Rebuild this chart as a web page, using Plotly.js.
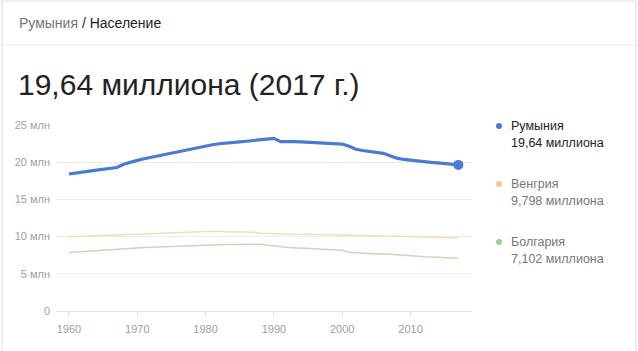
<!DOCTYPE html>
<html><head><meta charset="utf-8">
<script src="https://cdn.plot.ly/plotly-3.0.1.min.js"></script>
<style>html,body{margin:0;padding:0;background:#fff;}#chart{width:638px;height:351px;}</style>
</head><body><div id="chart"></div>
<script>
const years = [];
for (let y = 1960; y <= 2017; y++) years.push(y);
const romania = [18.41,18.57,18.68,18.81,18.93,19.03,19.14,19.29,19.72,20.01,20.25,20.47,20.66,20.83,21.03,21.25,21.45,21.66,21.86,22.05,22.2,22.35,22.48,22.53,22.63,22.72,22.82,22.94,23.05,23.15,23.2,22.76,22.79,22.76,22.73,22.68,22.61,22.55,22.51,22.46,22.44,22.13,21.73,21.57,21.45,21.32,21.19,20.88,20.54,20.37,20.25,20.15,20.06,19.98,19.91,19.82,19.7,19.64];
const hungary = [9.98,10.03,10.06,10.09,10.12,10.15,10.18,10.22,10.26,10.3,10.34,10.37,10.4,10.43,10.47,10.53,10.59,10.64,10.67,10.7,10.71,10.71,10.7,10.68,10.65,10.63,10.61,10.59,10.44,10.4,10.37,10.37,10.36,10.33,10.29,10.33,10.3,10.28,10.25,10.21,10.21,10.19,10.16,10.13,10.11,10.09,10.07,10.06,10.04,10.02,10.0,9.97,9.92,9.89,9.87,9.84,9.81,9.798];
const bulgaria = [7.87,7.94,8.01,8.08,8.14,8.2,8.26,8.33,8.37,8.43,8.49,8.54,8.58,8.62,8.68,8.72,8.76,8.8,8.81,8.83,8.86,8.89,8.92,8.94,8.95,8.96,8.96,8.97,8.98,8.88,8.72,8.63,8.54,8.47,8.44,8.41,8.36,8.31,8.26,8.21,8.17,7.91,7.84,7.8,7.75,7.66,7.7,7.62,7.58,7.49,7.4,7.35,7.3,7.26,7.22,7.18,7.13,7.102];
const names = ["Румыния","Венгрия","Болгария"];
const legendValues = ["19,64 миллиона","9,798 миллиона","7,102 миллиона"];
const lineColors = ["#4a7bd3","#f6dcb4","#c3dbb7"];
const dotColors = ["#4a7bd3","#f0c98b","#a3c996"];
const yTicks = [0,5,10,15,20,25];
const yTickText = ["0","5 млн","10 млн","15 млн","20 млн","25 млн"];
const xTicks = [1960,1970,1980,1990,2000,2010];
const headerCountry = "Румыния";
const headerTopic = "Население";
const bigTitle = "19,64 миллиона (2017 г.)";

const W = 638, H = 351;
const L = 56, R = 166, T = 125, B = 40;
const pw = W - L - R, ph = H - T - B;
const px = x => (x - L) / pw;
const py = y => (H - B - y) / ph;

const font = "Arial, 'Liberation Sans', sans-serif";

const traces = [
  {x: years, y: bulgaria, mode: "lines", line: {color: lineColors[2], width: 1.5}, hoverinfo: "skip"},
  {x: years, y: hungary, mode: "lines", line: {color: lineColors[1], width: 1.5}, hoverinfo: "skip"},
  {x: years, y: romania, mode: "lines", line: {color: lineColors[0], width: 3.2}, hoverinfo: "skip"},
  {x: [years[years.length-1]], y: [romania[romania.length-1]], mode: "markers", marker: {color: lineColors[0], size: 10}, hoverinfo: "skip"}
];

const annotations = [
  {xref: "paper", yref: "paper", x: px(17), y: py(23), xanchor: "left", yanchor: "middle", showarrow: false,
   text: '<span style="color:#70757a">' + headerCountry + '</span> / ' + headerTopic,
   font: {family: font, size: 14, color: "#222"}},
  {xref: "paper", yref: "paper", x: px(16), y: py(84), xanchor: "left", yanchor: "middle", showarrow: false,
   text: bigTitle, font: {family: font, size: 30, color: "#222"}}
];
const legendY = [126, 184, 242];
const shapes = [
  {type: "rect", xref: "paper", yref: "paper", x0: px(2), x1: px(636), y0: py(1), y1: py(360),
   line: {color: "#e2e2e2", width: 1.2}, fillcolor: "rgba(0,0,0,0)", layer: "below"},
  {type: "line", xref: "paper", yref: "paper", x0: px(2), x1: px(636), y0: py(45), y1: py(45),
   line: {color: "#e8e8e8", width: 1.2}}
];
for (let i = 0; i < 3; i++) {
  shapes.push({type: "circle", xref: "paper", yref: "paper", x0: px(496), x1: px(502), y0: py(legendY[i]-3), y1: py(legendY[i]+3),
    fillcolor: dotColors[i], line: {width: 0}});
  annotations.push({xref: "paper", yref: "paper", x: px(509), y: py(legendY[i]), xanchor: "left", yanchor: "middle", showarrow: false,
    text: names[i], font: {family: font, size: 12.5, color: i === 0 ? "#222" : "#777"}});
  annotations.push({xref: "paper", yref: "paper", x: px(509), y: py(legendY[i] + 17), xanchor: "left", yanchor: "middle", showarrow: false,
    text: legendValues[i], font: {family: font, size: 12.5, color: i === 0 ? "#222" : "#777"}});
}

const layout = {
  width: W, height: H,
  margin: {l: L, r: R, t: T, b: B, pad: 0},
  paper_bgcolor: "#fff", plot_bgcolor: "#fff",
  showlegend: false,
  font: {family: font},
  xaxis: {range: [1958.1, 2019.0], tickvals: xTicks, ticktext: xTicks.map(String),
    showgrid: false, zeroline: false, showline: false,
    ticks: "outside", ticklen: 5, tickcolor: "#e0e0e0", tickwidth: 1,
    tickfont: {family: font, size: 11, color: "#9e9e9e"}, ticklabelstandoff: 3, fixedrange: true},
  yaxis: {range: [0, 25], tickvals: yTicks, ticktext: yTickText,
    showgrid: true, gridcolor: "#ececec", gridwidth: 1, zeroline: true, zerolinecolor: "#e0e0e0", zerolinewidth: 1,
    showline: false, ticks: "", tickfont: {family: font, size: 11, color: "#9e9e9e"}, ticklabelstandoff: 5, fixedrange: true},
  annotations: annotations,
  shapes: shapes
};
Plotly.newPlot("chart", traces, layout, {displayModeBar: false, staticPlot: true});
</script></body></html>
